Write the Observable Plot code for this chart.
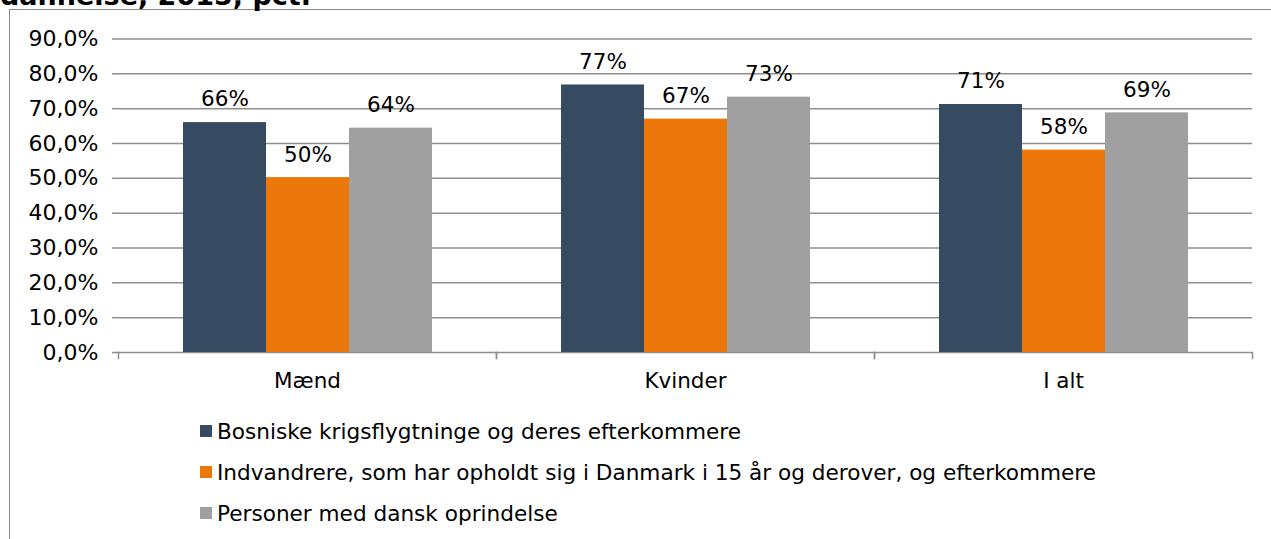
<!DOCTYPE html>
<html>
<head>
<meta charset="utf-8">
<script src="https://cdn.jsdelivr.net/npm/d3@7"></script>
<script src="https://cdn.jsdelivr.net/npm/@observablehq/plot@0.6"></script>
<style>
  html, body { margin: 0; padding: 0; background: #fff; }
  #wrap { position: relative; width: 1271px; height: 539px; overflow: hidden; font-family: "DejaVu Sans", Verdana, sans-serif; }
  #title { position: absolute; left: 0; top: -18px; font-size: 27px; line-height: 27px; font-weight: bold; white-space: nowrap; color: #000; }
  #border { position: absolute; left: 9px; top: 9px; width: 1400px; height: 700px; border: 1.5px solid #8c8c8c; box-sizing: border-box; }
  #chart { position: absolute; left: 0; top: 0; }
  #legend { position: absolute; left: 200px; top: 0; font-size: 21.6px; color: #000; }
  .item { position: absolute; left: 0; white-space: nowrap; display: flex; align-items: center; height: 24px; }
  .sw { width: 12px; height: 12px; margin-right: 5px; flex: none; }
</style>
</head>
<body>
<div id="wrap">
  <div id="border"></div>
  <div id="title"></div>
  <div id="chart"></div>
  <div id="legend"></div>
</div>
<script>
const titleText = "dannelse, 2015, pct.";
const categories = ["Mænd", "Kvinder", "I alt"];
const seriesNames = [
  "Bosniske krigsflygtninge og deres efterkommere",
  "Indvandrere, som har opholdt sig i Danmark i 15 år og derover, og efterkommere",
  "Personer med dansk oprindelse"
];
const bosniske = [66.0, 76.8, 71.2];
const indvandrere = [50.2, 67.0, 58.1];
const danske = [64.4, 73.3, 68.8];
const yTicks = [0, 10, 20, 30, 40, 50, 60, 70, 80, 90];
const colors = ["#364b61", "#ec770a", "#a0a0a0"];

const seriesValues = [bosniske, indvandrere, danske];
const data = [];
categories.forEach((c, i) => {
  seriesNames.forEach((s, j) => {
    data.push({cat: c, series: s, value: seriesValues[j][i]});
  });
});

document.getElementById("title").textContent = titleText;

const grid = "#8f8f8f";
const chart = Plot.plot({
  width: 1271,
  height: 400,
  marginLeft: 117,
  marginRight: 19,
  marginTop: 38.5,
  marginBottom: 48,
  style: {fontFamily: "DejaVu Sans, Verdana, sans-serif", fontSize: "21px", color: "#000", background: "transparent"},
  fx: {domain: categories, padding: 0},
  x: {domain: seriesNames, paddingInner: 0, paddingOuter: 0.762, axis: null},
  y: {domain: [0, 90]},
  color: {domain: seriesNames, range: colors},
  marks: [
    Plot.ruleY(yTicks, {stroke: grid, strokeWidth: 1.5}),
    Plot.barY(data, {fx: "cat", x: "series", y: "value", fill: "series"}),
    Plot.text(data, {fx: "cat", x: "series", y: "value", text: d => Math.round(d.value) + "%", dy: -23, fontSize: 21.5, fill: "#000"}),
    Plot.frame({anchor: "left", insetTop: 313.5, insetBottom: -6, stroke: grid, strokeWidth: 1.5}),
    Plot.frame({anchor: "right", insetTop: 313.5, insetBottom: -6, stroke: grid, strokeWidth: 1.5}),
    Plot.axisY({ticks: yTicks, tickSize: 6, tickPadding: 14, tickFormat: d => d.toFixed(1).replace(".", ",") + "%", label: null, line: true, stroke: grid, strokeWidth: 1.5, strokeOpacity: 1, fill: "#000", fontSize: 22}),
    Plot.axisFx({anchor: "bottom", tickSize: 0, tickPadding: 20, label: null, fill: "#000", fontSize: 21.5})
  ]
});
document.getElementById("chart").appendChild(chart);

const legend = document.getElementById("legend");
const rowCenters = [431, 472, 513];
seriesNames.forEach((s, j) => {
  const row = document.createElement("div");
  row.className = "item";
  row.style.top = (rowCenters[j] - 12) + "px";
  const sw = document.createElement("span");
  sw.className = "sw";
  sw.style.background = colors[j];
  const t = document.createElement("span");
  t.textContent = s;
  row.appendChild(sw);
  row.appendChild(t);
  legend.appendChild(row);
});
</script>
</body>
</html>
